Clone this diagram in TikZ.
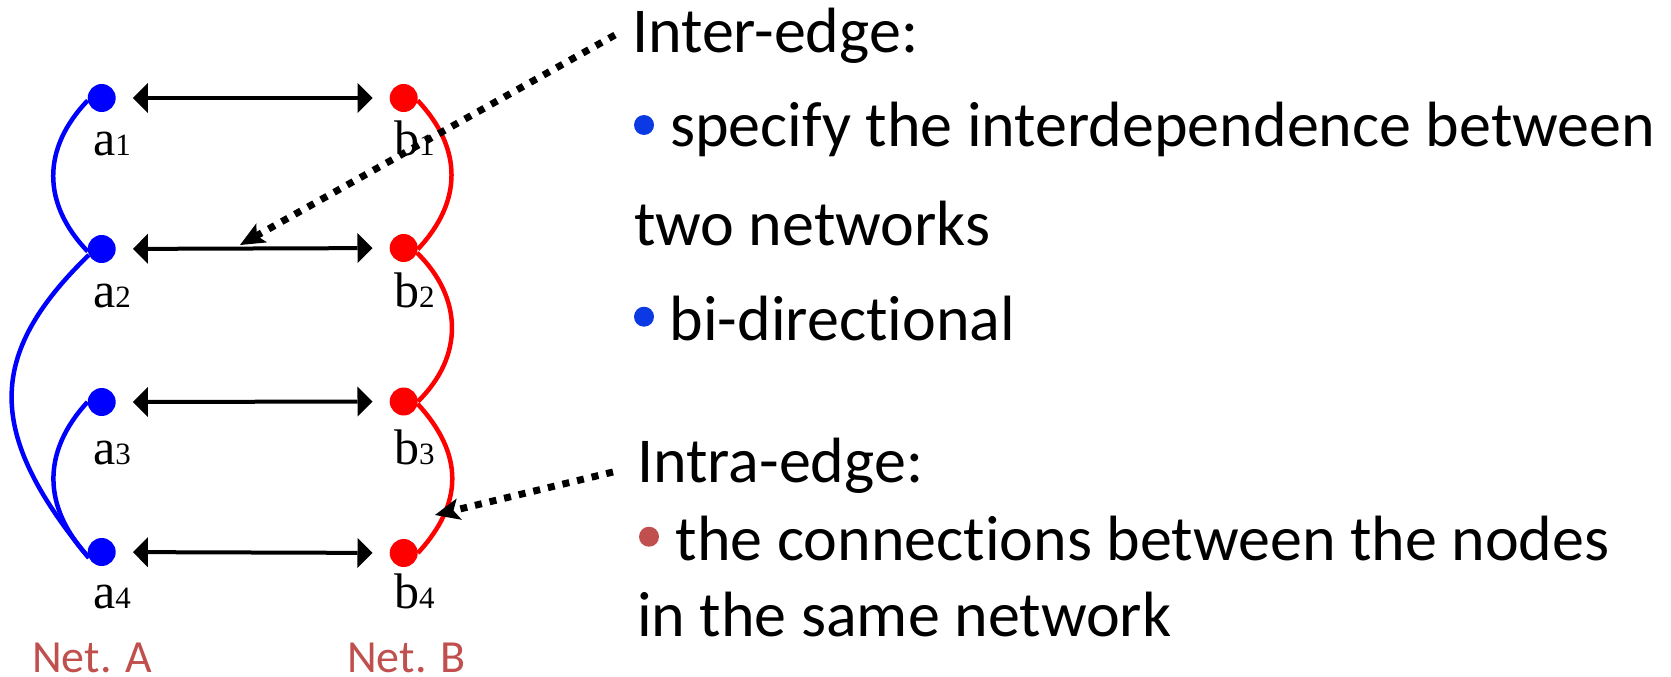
\documentclass[tikz,border=0pt]{standalone}
\usepackage{fontspec}
\setmainfont{Carlito}[Ligatures={NoCommon,NoContextual}]
\newfontfamily\timesfont{Liberation Serif}
\usetikzlibrary{arrows.meta}

\definecolor{netred}{RGB}{192,80,77}
\definecolor{bulletblue}{RGB}{11,58,229}
\definecolor{nodeblue}{RGB}{0,0,255}
\definecolor{nodered}{RGB}{255,0,0}

% vertex label: letter with a small index on the same baseline
\newcommand\vtxlab[2]{#1{\fontsize{31}{31}\selectfont #2}}
% keeps "t" and "i" as separate letters
\newcommand\tisep{t\kern0pt i}

\begin{document}
\begin{tikzpicture}[x=1pt,y=-1pt,
  vert/.style={circle,inner sep=0pt,minimum size=28pt},
  anode/.style={vert,fill=nodeblue},
  bnode/.style={vert,fill=nodered},
  vlab/.style={anchor=base west,inner sep=0pt,font=\timesfont\fontsize{50}{50}\selectfont},
  biarrow/.style={line width=4pt,shorten <=17pt,shorten >=17pt,
    {Triangle[length=15pt,width=30pt,line width=0pt]}-{Triangle[length=15pt,width=30pt,line width=0pt]}},
  edgeA/.style={nodeblue,line width=4.5pt},
  edgeB/.style={nodered,line width=4.5pt},
  pointer/.style={line width=7pt,dash pattern=on 7pt off 8pt,
    -{Stealth[length=25pt,width=22pt,inset=6pt,line width=0pt]}},
  txt/.style={anchor=base west,inner sep=0pt,font=\fontsize{64}{64}\selectfont},
  netlab/.style={anchor=base west,inner sep=0pt,text=netred,font=\fontsize{46}{46}\selectfont},
  bullet/.style={circle,inner sep=0pt,minimum size=20pt}]

\useasboundingbox (0,0) rectangle (1671,677);

% vertices of the two networks
\node[anode] (a1) at (101.7,98) {};
\node[anode] (a2) at (101.7,249) {};
\node[anode] (a3) at (101.7,402) {};
\node[anode] (a4) at (101.7,552) {};
\node[bnode] (b1) at (403.7,98) {};
\node[bnode] (b2) at (403.7,248) {};
\node[bnode] (b3) at (403.7,401.5) {};
\node[bnode] (b4) at (403.7,553) {};

% vertex labels
\node[vlab] (la1) at (93,155.7) {\vtxlab{a}{1}};
\node[vlab] (la2) at (93,307) {\vtxlab{a}{2}};
\node[vlab] (la3) at (93,464) {\vtxlab{a}{3}};
\node[vlab] (la4) at (93,608) {\vtxlab{a}{4}};
\node[vlab] (lb1) at (394,155.7) {\vtxlab{b}{1}};
\node[vlab] (lb2) at (394,307) {\vtxlab{b}{2}};
\node[vlab] (lb3) at (394,464) {\vtxlab{b}{3}};
\node[vlab] (lb4) at (394,608) {\vtxlab{b}{4}};

% inter-edges
\draw[biarrow] (a1) -- (b1);
\draw[biarrow] (a2) -- (b2);
\draw[biarrow] (a3) -- (b3);
\draw[biarrow] (a4) -- (b4);

% intra-edges of network A
\draw[edgeA] (a1.190) .. controls +(-46,48) and +(-46,-48) .. (a2.190);
\draw[edgeA] (a2.205) .. controls +(-103,100) and +(-103,-125) .. (a4.205);
\draw[edgeA] (a3.180) .. controls +(-46,50) and +(-46,-50) .. (a4.200);

% intra-edges of network B
\draw[edgeB] (b1.350) .. controls +(45,48) and +(45,-48) .. (b2.355);
\draw[edgeB] (b2.340) .. controls +(46,45) and +(46,-45) .. (b3.east);
\draw[edgeB] (b3.350) .. controls +(46,50) and +(46,-50) .. (b4.east);

% network names
\node[netlab] (neta) at (32,672) {Net. A};
\node[netlab] (netb) at (347,672) {Net. B};

% explanations
\node[txt] (interhead) at (632,52.3) {Inter-edge:};
\node[bullet,fill=bulletblue] (bul1) at (644,125) {};
\node[txt] (inter1) at (670,146.7) {specify the interdependence between};
\node[txt] (inter2) at (634,245) {two networks};
\node[bullet,fill=bulletblue] (bul2) at (644,316.7) {};
\node[txt] (inter3) at (669.5,340) {bi-direc\tisep onal};

\node[txt] (intrahead) at (637,482.7) {Intra-edge:};
\node[bullet,fill=netred] (bul3) at (649,536.7) {};
\node[txt] (intra1) at (675.7,560) {the connec\tisep ons between the nodes};
\node[txt] (intra2) at (637,636.7) {in the same network};

% dotted pointers from the explanations to the edges
\coordinate (interTail) at (615,35);
\coordinate (interTip) at (240,245);
\draw[pointer] (interTail) -- (interTip);
\coordinate (intraTail) at (613,472);
\coordinate (intraTip) at (435,515);
\draw[pointer] (intraTail) -- (intraTip);

\end{tikzpicture}
\end{document}
